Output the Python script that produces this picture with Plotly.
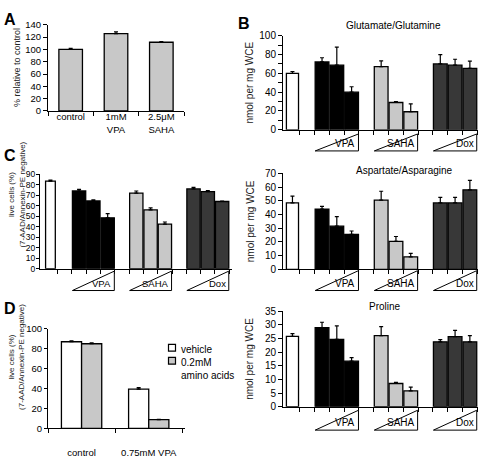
import plotly.graph_objects as go

W, H = 481, 458


def fx(p):
    return p / W


def fy(p):
    return 1 - p / H


# ---------------- data ----------------
A_labels = ["control", "1mM<br>VPA", "2.5μM<br>SAHA"]
A_values = [100, 125.5, 111.5]
A_errors = [1.5, 3.0, 1.0]

groups = ["VPA", "SAHA", "Dox"]
slots = [0, 2, 3, 4, 6, 7, 8, 10, 11, 12]
treatment = ["vehicle", "VPA", "VPA", "VPA", "SAHA", "SAHA", "SAHA", "Dox", "Dox", "Dox"]

C_values = [83.5, 74, 64.5, 48.5, 72, 56, 42.5, 76, 73.5, 64]
C_errors = [1, 1.5, 1, 4, 2, 2, 2, 1.5, 1, 0.5]

Glu_values = [60, 72.2, 68.7, 40, 67.2, 29, 19.2, 70, 68.7, 65.3]
Glu_errors = [2, 4.4, 19.3, 5.8, 6, 1, 8.3, 10, 6.3, 7.7]

Asp_values = [48.5, 44, 31.5, 25.5, 50.5, 20.5, 9.2, 48.5, 48.5, 58]
Asp_errors = [5, 2, 7, 2.5, 6.5, 3.5, 2.5, 4, 4, 7]

Pro_values = [25.8, 29, 24.7, 16.7, 26.1, 8.5, 5.8, 23.8, 25.7, 23.8]
Pro_errors = [1, 2, 5, 1.3, 3.3, 0.4, 1.4, 0.8, 2.3, 2.3]

D_labels = ["control", "0.75mM VPA"]
D_vehicle = [87, 39.5]
D_vehicle_err = [0.8, 1.5]
D_amino = [85, 8.8]
D_amino_err = [1, 0.3]

# ---------------- style ----------------
FONT = "Liberation Sans, Arial, sans-serif"
COL = {"vehicle": "#ffffff", "VPA": "#000000", "SAHA": "#c8c8c8", "Dox": "#383838"}
LIGHT = "#c8c8c8"

fig = go.Figure()


def err(arr):
    return dict(type="data", array=arr, arrayminus=[0] * len(arr), symmetric=False,
                color="black", thickness=1.2, width=2)


# Panel A
fig.add_trace(go.Bar(x=[0, 1, 2], y=A_values, width=0.52,
                     marker=dict(color=LIGHT, line=dict(color="black", width=1.3)),
                     error_y=err(A_errors), xaxis="x", yaxis="y", showlegend=False))

shapes = []
annotations = []


def bar_panel(xa, ya, values, errors, white_w, tri_top, tri_bot, lab_size):
    colors = [COL[t] for t in treatment]
    widths = [white_w if t == "vehicle" else 0.93 for t in treatment]
    fig.add_trace(go.Bar(x=slots, y=values, width=widths,
                         marker=dict(color=colors, line=dict(color="black", width=1.3)),
                         error_y=err(errors), xaxis=xa, yaxis=ya, showlegend=False))
    for g in groups:
        idx = [s for s, t in zip(slots, treatment) if t == g]
        x0 = min(idx) - 0.465
        x1 = max(idx) + 0.465
        yb, yt = fy(tri_bot), fy(tri_top)
        shapes.append(dict(type="path", xref=xa, yref="paper",
                           path=f"M {x0},{yb} L {x1},{yb} L {x1},{yt} Z",
                           line=dict(color="black", width=1), fillcolor="white"))
        annotations.append(dict(text=g, x=x1, y=yb, xref=xa, yref="paper",
                                xanchor="right", yanchor="bottom", xshift=-1, yshift=0,
                                showarrow=False, font=dict(size=lab_size, family=FONT, color="black")))


bar_panel("x2", "y2", Glu_values, Glu_errors, 0.82, 132, 149.5, 10)
bar_panel("x3", "y3", C_values, C_errors, 0.68, 273.5, 293.5, 9.5)
bar_panel("x4", "y4", Asp_values, Asp_errors, 0.82, 273, 293.5, 10)
bar_panel("x6", "y6", Pro_values, Pro_errors, 0.82, 417, 437.5, 10)

# Panel D
fig.add_trace(go.Bar(x=[0, 1], y=D_vehicle, width=0.3, offset=-0.3, name="vehicle",
                     marker=dict(color="white", line=dict(color="black", width=1.3)),
                     error_y=err(D_vehicle_err), xaxis="x5", yaxis="y5", showlegend=False))
fig.add_trace(go.Bar(x=[0, 1], y=D_amino, width=0.3, offset=0.0, name="0.2mM amino acids",
                     marker=dict(color=LIGHT, line=dict(color="black", width=1.3)),
                     error_y=err(D_amino_err), xaxis="x5", yaxis="y5", showlegend=False))

# manual legend for D
for (ytop, colr, txt) in [(349, "white", "vehicle"), (362.5, LIGHT, "0.2mM<br>amino acids")]:
    shapes.append(dict(type="rect", xref="paper", yref="paper",
                       x0=fx(168.5), x1=fx(175.5), y0=fy(ytop + 7), y1=fy(ytop),
                       line=dict(color="black", width=1.2), fillcolor=colr))
    annotations.append(dict(text=txt, x=fx(179), y=fy(ytop - 2.5), xref="paper", yref="paper",
                            xanchor="left", yanchor="top", align="left", showarrow=False,
                            font=dict(size=10, family=FONT, color="black")))


def tf(size):
    return dict(size=size, family=FONT, color="black")


def yax(dom_bot, dom_top, rng, dtick, xa, size, ticklen=4, standoff=0, minor=None):
    d = dict(domain=[fy(dom_bot), fy(dom_top)], range=rng, dtick=dtick, tick0=0,
             showline=True, linecolor="black", linewidth=1, ticks="outside", ticklen=ticklen,
             tickcolor="black", tickwidth=1, showgrid=False, zeroline=False,
             tickfont=tf(size), anchor=xa, fixedrange=True, ticklabelstandoff=standoff)
    if minor:
        d["minor"] = dict(dtick=minor, tick0=0, ticks="outside", ticklen=ticklen, tickcolor="black")
    return d


def xax_slots(dom_l, dom_r, rng, ya):
    tv = [i + 0.5 for i in range(0, 13)]
    return dict(domain=[fx(dom_l), fx(dom_r)], range=rng, tickmode="array", tickvals=tv,
                ticktext=[""] * len(tv), showline=True, linecolor="black", linewidth=1,
                ticks="outside", ticklen=4, tickcolor="black", showgrid=False,
                zeroline=False, anchor=ya, fixedrange=True)


layout = dict(
    width=W, height=H, margin=dict(l=0, r=0, t=0, b=0),
    paper_bgcolor="white", plot_bgcolor="white", barmode="overlay",
    font=dict(family=FONT, size=10, color="black"),
    showlegend=False,
    xaxis=dict(domain=[fx(48), fx(184)], range=[-0.5, 2.5], tickmode="array",
               tickvals=[0, 1, 2], ticktext=A_labels, ticks="", showline=True,
               linecolor="black", linewidth=1, showgrid=False, zeroline=False,
               tickfont=tf(9.5), anchor="y", fixedrange=True, ticklabelstandoff=-3,
               minor=dict(tick0=0.5, dtick=1, ticks="outside", ticklen=4, tickcolor="black")),
    yaxis=yax(108.3, 19.3, [0, 140], 20, "x", 9.5),
    xaxis2=xax_slots(283, 478, [-0.64, 12.55], "y2"),
    yaxis2=yax(127.7, 30.7, [0, 100], 20, "x2", 10, minor=10),
    xaxis3=xax_slots(40, 232, [-0.73, 12.69], "y3"),
    yaxis3=yax(271, 173.5, [0, 90], 10, "x3", 8.5, ticklen=3, standoff=-1),
    xaxis4=xax_slots(283, 478, [-0.64, 12.55], "y4"),
    yaxis4=yax(271.7, 172.7, [0, 70], 10, "x4", 10),
    xaxis5=dict(domain=[fx(48), fx(185)], range=[-0.5, 1.54], tickmode="array",
                tickvals=[0, 1], ticktext=D_labels, ticks="", showline=True,
                linecolor="black", linewidth=1, showgrid=False, zeroline=False,
                tickfont=tf(9.5), anchor="y5", fixedrange=True, ticklabelstandoff=15,
                minor=dict(tick0=0.5, dtick=1, ticks="outside", ticklen=4, tickcolor="black")),
    yaxis5=yax(435.7, 333, [0, 100], 20, "x5", 9.5, ticklen=3),
    xaxis6=xax_slots(283, 478, [-0.64, 12.55], "y6"),
    yaxis6=yax(413.3, 315, [0, 35], 5, "x6", 10),
)

# panel letters
for letter, x, y in [("A", 2, 3), ("B", 236, 7), ("C", 2, 143), ("D", 2, 301)]:
    annotations.append(dict(text=f"<b>{letter}</b>", x=fx(x), y=fy(y), xref="paper", yref="paper",
                            xanchor="left", yanchor="top", showarrow=False,
                            font=dict(size=16, family=FONT, color="black")))

# panel B titles
for txt, x, y in [("Glutamate/Glutamine", 393, 20), ("Aspartate/Asparagine", 404, 170),
                  ("Proline", 385, 310)]:
    annotations.append(dict(text=txt, x=fx(x), y=fy(y), xref="paper", yref="paper",
                            xanchor="center", yanchor="middle", showarrow=False,
                            font=dict(size=10, family=FONT, color="black")))

# y-axis titles
for txt, x, y, size in [("% relative to control", 16.5, 63.5, 9),
                        ("nmol per mg WCE", 250, 79, 10),
                        ("nmol per mg WCE", 250, 222, 10),
                        ("nmol per mg WCE", 250, 364, 10),
                        ("live cells (%)<br>(7-AAD/Annexin-PE negative)", 16.5, 195, 8),
                        ("live cells (%)<br>(7-AAD/Annexin-PE negative)", 17, 362, 8)]:
    annotations.append(dict(text=txt, x=fx(x), y=fy(y), xref="paper", yref="paper",
                            xanchor="center", yanchor="middle", textangle=-90,
                            showarrow=False, font=dict(size=size, family=FONT, color="#222")))

layout["shapes"] = shapes
layout["annotations"] = annotations
fig.update_layout(**layout)

fig.write_html("out.html", config={"displayModeBar": False},
               post_script="document.body.style.margin='0';")
